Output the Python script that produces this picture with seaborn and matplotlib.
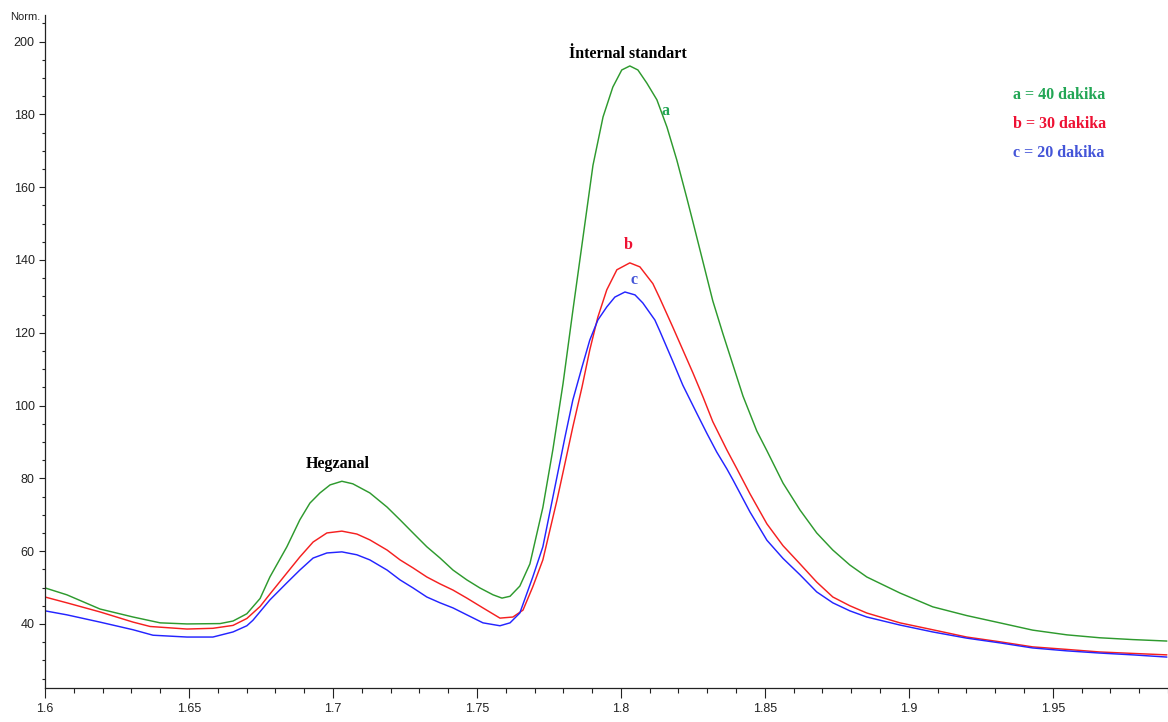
import numpy as np
import pandas as pd
import matplotlib
matplotlib.use("Agg")
import matplotlib.pyplot as plt
from matplotlib import font_manager
from matplotlib.ticker import MultipleLocator, FuncFormatter
import seaborn as sns

# ---------------- data ----------------
x_a = [1.6000, 1.6076, 1.6191, 1.6306, 1.6400, 1.6493, 1.6608, 1.6653, 1.6701, 1.6747,
       1.6781, 1.6840, 1.6885, 1.6920, 1.6955, 1.6990, 1.7031, 1.7069, 1.7128, 1.7188,
       1.7233, 1.7278, 1.7326, 1.7372, 1.7417, 1.7465, 1.7510, 1.7556, 1.7587, 1.7615,
       1.7649, 1.7684, 1.7729, 1.7764, 1.7799, 1.7816, 1.7833, 1.7847, 1.7875, 1.7903,
       1.7938, 1.7972, 1.8003, 1.8031, 1.8059, 1.8090, 1.8125, 1.8160, 1.8194, 1.8229,
       1.8250, 1.8285, 1.8319, 1.8354, 1.8389, 1.8424, 1.8472, 1.8507, 1.8563, 1.8622,
       1.8680, 1.8736, 1.8795, 1.8854, 1.8969, 1.9083, 1.9201, 1.9316, 1.9430, 1.9549,
       1.9663, 1.9778, 1.9896]
y_a = [49.9, 48.0, 44.1, 41.9, 40.3, 40.0, 40.1, 40.8, 42.8, 47.0,
       52.9, 61.2, 68.6, 73.2, 76.0, 78.2, 79.2, 78.5, 76.0, 72.1,
       68.6, 65.0, 61.2, 58.1, 54.8, 52.1, 49.9, 48.0, 47.1, 47.6,
       50.4, 56.5, 72.0, 88.0, 106.0, 116.0, 126.0, 134.0, 150.0, 166.0,
       179.3, 187.5, 192.2, 193.3, 192.2, 188.6, 184.0, 176.5, 167.5, 157.0,
       150.5, 139.5, 128.8, 119.8, 111.2, 102.6, 93.0, 87.6, 78.7, 71.3,
       65.0, 60.3, 56.2, 52.9, 48.5, 44.7, 42.3, 40.3, 38.3, 37.0,
       36.2, 35.7, 35.3]

x_b = [1.6000, 1.6076, 1.6191, 1.6306, 1.6365, 1.6493, 1.6583, 1.6653, 1.6701, 1.6747,
       1.6781, 1.6840, 1.6885, 1.6931, 1.6979, 1.7031, 1.7083, 1.7128, 1.7188, 1.7233,
       1.7278, 1.7326, 1.7372, 1.7417, 1.7465, 1.7521, 1.7580, 1.7625, 1.7660, 1.7694,
       1.7729, 1.7778, 1.7806, 1.7833, 1.7865, 1.7892, 1.7920, 1.7951, 1.7986, 1.8031,
       1.8066, 1.8111, 1.8135, 1.8180, 1.8215, 1.8250, 1.8285, 1.8319, 1.8368, 1.8403,
       1.8448, 1.8507, 1.8563, 1.8622, 1.8680, 1.8736, 1.8795, 1.8854, 1.8969, 1.9083,
       1.9201, 1.9316, 1.9430, 1.9549, 1.9663, 1.9778, 1.9896]
y_b = [47.4, 45.8, 43.3, 40.5, 39.3, 38.6, 38.8, 39.6, 41.5, 44.8,
       48.2, 54.0, 58.4, 62.5, 65.0, 65.5, 64.7, 63.1, 60.3, 57.6,
       55.4, 52.9, 51.0, 49.3, 47.1, 44.4, 41.6, 41.9, 43.8, 50.2,
       57.6, 74.0, 84.2, 94.1, 105.1, 115.3, 124.3, 131.8, 137.3, 139.2,
       138.1, 133.5, 129.5, 121.6, 115.3, 109.0, 102.4, 95.6, 87.8, 82.6,
       75.8, 67.5, 61.5, 56.5, 51.5, 47.4, 45.0, 43.0, 40.3, 38.4,
       36.4, 35.1, 33.7, 33.0, 32.3, 31.9, 31.5]

x_c = [1.6000, 1.6076, 1.6191, 1.6306, 1.6375, 1.6493, 1.6583, 1.6653, 1.6701, 1.6722,
       1.6781, 1.6840, 1.6885, 1.6931, 1.6979, 1.7031, 1.7083, 1.7128, 1.7188, 1.7233,
       1.7278, 1.7326, 1.7372, 1.7417, 1.7465, 1.7521, 1.7580, 1.7615, 1.7649, 1.7694,
       1.7729, 1.7778, 1.7806, 1.7833, 1.7865, 1.7892, 1.7920, 1.7951, 1.7979, 1.8014,
       1.8049, 1.8076, 1.8118, 1.8135, 1.8180, 1.8215, 1.8264, 1.8299, 1.8333, 1.8368,
       1.8389, 1.8448, 1.8507, 1.8563, 1.8622, 1.8680, 1.8736, 1.8795, 1.8854, 1.8969,
       1.9083, 1.9201, 1.9316, 1.9430, 1.9549, 1.9663, 1.9778, 1.9896]
y_c = [43.6, 42.5, 40.5, 38.4, 36.9, 36.4, 36.4, 37.8, 39.5, 41.0,
       46.6, 51.3, 54.8, 58.1, 59.5, 59.8, 59.0, 57.6, 54.8, 52.1,
       49.9, 47.4, 45.8, 44.4, 42.5, 40.3, 39.5, 40.3, 43.0, 52.9,
       61.2, 80.4, 91.4, 101.5, 110.6, 118.0, 123.5, 127.1, 129.8, 131.2,
       130.4, 128.2, 123.5, 120.5, 112.2, 105.6, 97.8, 92.3, 87.2, 82.6,
       79.6, 70.8, 63.0, 58.0, 53.5, 48.8, 45.8, 43.6, 41.9, 39.7,
       37.8, 36.1, 34.8, 33.4, 32.6, 32.0, 31.5, 30.9]

series_names = ["a", "b", "c"]
legend_texts = ["a = 40 dakika", "b = 30 dakika", "c = 20 dakika"]
x_ticks = [1.6, 1.65, 1.7, 1.75, 1.8, 1.85, 1.9, 1.95]
y_ticks = [40, 60, 80, 100, 120, 140, 160, 180, 200]

line_colors = {"a": "#2e9a2e", "b": "#f52020", "c": "#2424ff"}
text_colors = {"a": "#22a655", "b": "#ee1133", "c": "#4455d8"}

df = pd.concat([
    pd.DataFrame({"x": x_a, "y": y_a, "series": "a"}),
    pd.DataFrame({"x": x_b, "y": y_b, "series": "b"}),
    pd.DataFrame({"x": x_c, "y": y_c, "series": "c"}),
], ignore_index=True)

# ---------------- style ----------------
sns.set_style("ticks")
available = {f.name for f in font_manager.fontManager.ttflist}
tick_font = "Liberation Sans Narrow" if "Liberation Sans Narrow" in available else "Liberation Sans"
serif_font = "Liberation Serif" if "Liberation Serif" in available else "DejaVu Serif"
plt.rcParams["font.family"] = [tick_font, "DejaVu Sans"]

fig = plt.figure(figsize=(11.68, 7.22), dpi=100)
ax = fig.add_axes([45 / 1168, 34 / 722, 1 - 45 / 1168, (688 - 15) / 722])

sns.lineplot(data=df, x="x", y="y", hue="series", palette=line_colors,
             estimator=None, sort=False, legend=False, linewidth=1.05, ax=ax)
for ln in ax.get_lines():
    ln.set_solid_joinstyle("round")

ax.set_xlim(1.6, 1.99)
ax.set_ylim(22.4, 207.3)
ax.set_xlabel("")
ax.set_ylabel("")

ax.set_xticks(x_ticks)
ax.set_yticks(y_ticks)
ax.xaxis.set_minor_locator(MultipleLocator(0.01))
ax.yaxis.set_minor_locator(MultipleLocator(5))
ax.xaxis.set_major_formatter(FuncFormatter(lambda v, p: f"{v:g}"))
ax.yaxis.set_major_formatter(FuncFormatter(lambda v, p: f"{v:g}"))
ax.tick_params(axis="x", which="major", length=7, width=0.8, colors="#222222",
               labelsize=9, pad=4)
ax.tick_params(axis="x", which="minor", length=3.5, width=0.8, colors="#222222")
ax.tick_params(axis="y", which="major", length=4.5, width=0.8, colors="#222222",
               labelsize=9, pad=3)
ax.tick_params(axis="y", which="minor", length=2.5, width=0.8, colors="#222222")
for side in ["top", "right"]:
    ax.spines[side].set_visible(False)
for side in ["left", "bottom"]:
    ax.spines[side].set_color("#222222")
    ax.spines[side].set_linewidth(0.9)

fig.text(10 / 1168, 1 - 17 / 722, "Norm.", fontsize=8, color="#222222",
         ha="left", va="center")

# ---------------- annotations ----------------
ann_kw = dict(family=[serif_font, "DejaVu Serif"], fontweight="bold", fontsize=11.5)
ax.text(1.7017, 84.0, "Hegzanal", ha="center", va="center", color="black", **ann_kw)
ax.text(1.8024, 196.5, "İnternal standart", ha="center", va="center", color="black", **ann_kw)
ax.text(1.8156, 181.0, "a", ha="center", va="center", color=text_colors["a"], **ann_kw)
ax.text(1.8024, 144.0, "b", ha="center", va="center", color=text_colors["b"], **ann_kw)
ax.text(1.8045, 134.5, "c", ha="center", va="center", color=text_colors["c"], **ann_kw)

for i, (name, txt) in enumerate(zip(series_names, legend_texts)):
    ax.text(1.9361, 185.2 - i * 7.9, txt, ha="left", va="center",
            color=text_colors[name], **ann_kw)

fig.savefig("out.png", dpi=100)
